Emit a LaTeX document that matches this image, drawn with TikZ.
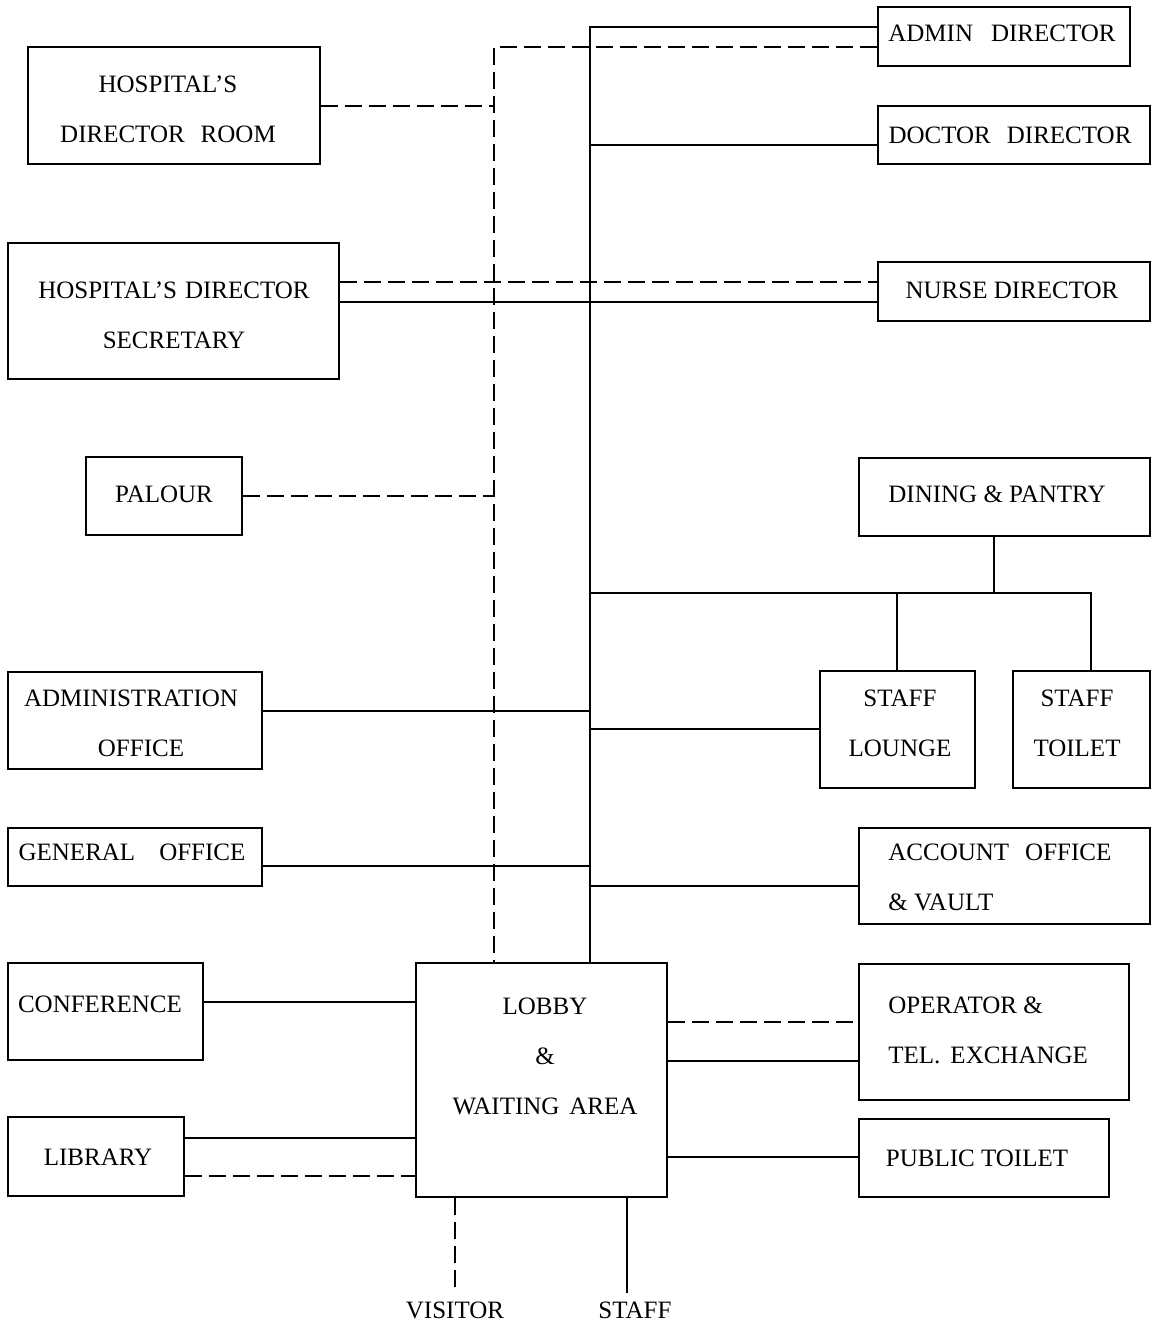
\documentclass[tikz,border=0pt]{standalone}
\usepackage{fontspec}
\setmainfont{Liberation Serif}
\begin{document}
\begin{tikzpicture}[x=0.5pt,y=-0.5pt,
  box/.style={draw, line width=1pt, inner sep=0pt},
  lbl/.style={font=\fontsize{12.5}{25}\selectfont, align=center, inner sep=0pt},
  lbll/.style={lbl, align=left, anchor=west},
  link/.style={line width=1pt},
  dline/.style={line width=1pt, dash pattern=on 8.5pt off 3.5pt},
]
\useasboundingbox[fill=white] (0,0) rectangle (1153,1326);

% room outline from its two corners
\newcommand\room[5]{%
  \node[box, minimum width={(#4-#2)*0.5pt}, minimum height={(#5-#3)*0.5pt}]
    (#1) at ({(#2+#4)/2},{(#3+#5)/2}) {};}

% left column
\room{dirroom}{28}{47}{320}{164}
\node[lbl] (dirroom-t) at (168,109) {HOSPITAL'S\\DIRECTOR\hspace{8pt}ROOM};
\room{secretary}{8}{243}{339}{379}
\node[lbl] (secretary-t) at (174,315) {HOSPITAL'S\hspace{4pt}DIRECTOR\\SECRETARY};
\room{palour}{86}{457}{242}{535}
\node[lbl] (palour-t) at (164,494) {PALOUR};
\room{adminoffice}{8}{672}{262}{769}
\node[lbl] (adminoffice-t) at (131,723) {ADMINISTRATION\\\hspace*{10pt}OFFICE};
\room{genoffice}{8}{828}{262}{886}
\node[lbl] (genoffice-t) at (132,852) {GENERAL\hspace{12pt}OFFICE};
\room{conference}{8}{963}{203}{1060}
\node[lbl] (conference-t) at (100,1004) {CONFERENCE};
\room{library}{8}{1117}{184}{1196}
\node[lbl] (library-t) at (98,1157) {LIBRARY};

% lobby
\room{lobby}{416}{963}{667}{1197}
\node[lbl] (lobby-t) at (545,1056) {LOBBY\\\&\\WAITING\hspace{5pt}AREA};

% right column
\room{admindir}{878}{7}{1130}{66}
\node[lbl] (admindir-t) at (1002,33) {ADMIN\hspace{9pt}DIRECTOR};
\room{docdir}{878}{106}{1150}{164}
\node[lbl] (docdir-t) at (1010,135) {DOCTOR\hspace{8pt}DIRECTOR};
\room{nursedir}{878}{262}{1150}{321}
\node[lbl] (nursedir-t) at (1012,290) {NURSE DIRECTOR};
\room{dining}{859}{458}{1150}{536}
\node[lbl] (dining-t) at (997,494) {DINING \& PANTRY};
\room{lounge}{820}{671}{975}{788}
\node[lbl] (lounge-t) at (900,723) {STAFF\\LOUNGE};
\room{stoilet}{1013}{671}{1150}{788}
\node[lbl] (stoilet-t) at (1077,723) {STAFF\\TOILET};
\room{account}{859}{828}{1150}{924}
\node[lbll] (account-t) at (888,877) {ACCOUNT\hspace{8pt}OFFICE\\\& VAULT};
\room{operator}{859}{964}{1129}{1100}
\node[lbll] (operator-t) at (888,1030) {OPERATOR \&\\TEL.\hspace{5pt}EXCHANGE};
\room{ptoilet}{859}{1119}{1109}{1197}
\node[lbl] (ptoilet-t) at (977,1158) {PUBLIC TOILET};

% entrances
\node[lbl, inner sep=4pt] (visitor) at (455,1310) {VISITOR};
\node[lbl, inner sep=4pt] (staff) at (635,1310) {STAFF};

% main spine (solid) and secondary spine (dashed)
\coordinate (trunktop) at (590,27);
\coordinate (dashtop) at (494,47);
\draw[link] (admindir.west |- trunktop) -- (trunktop) -- (lobby.north -| trunktop);
\draw[dline] (admindir.west |- dashtop) -- (dashtop) -- (lobby.north -| dashtop);

% branches off the dashed spine
\draw[dline] (dirroom.east |- 0,106) -- (dashtop |- 0,106);
\draw[dline] (palour.east |- 0,496) -- (dashtop |- 0,496);

% branches off the solid spine
\draw[link] (docdir.west |- 0,145) -- (trunktop |- 0,145);
\draw[dline] (secretary.east |- 0,282) -- (nursedir.west |- 0,282);
\draw[link] (secretary.east |- 0,302) -- (nursedir.west |- 0,302);
\draw[link] (trunktop |- 0,593) -- (1091,593) -- (stoilet.north -| 1091,0);
\draw[link] (dining.south -| 994,0) -- (994,593);
\draw[link] (lounge.north -| 897,0) -- (897,593);
\draw[link] (adminoffice.east |- 0,711) -- (trunktop |- 0,711);
\draw[link] (lounge.west |- 0,729) -- (trunktop |- 0,729);
\draw[link] (genoffice.east |- 0,866) -- (trunktop |- 0,866);
\draw[link] (account.west |- 0,886) -- (trunktop |- 0,886);

% rooms around the lobby
\draw[link] (conference.east |- 0,1002) -- (lobby.west |- 0,1002);
\draw[link] (library.east |- 0,1138) -- (lobby.west |- 0,1138);
\draw[dline] (library.east |- 0,1176) -- (lobby.west |- 0,1176);
\draw[dline] (lobby.east |- 0,1022) -- (operator.west |- 0,1022);
\draw[link] (lobby.east |- 0,1061) -- (operator.west |- 0,1061);
\draw[link] (lobby.east |- 0,1157) -- (ptoilet.west |- 0,1157);

% entrances
\draw[dline] (lobby.south -| visitor.north) -- (visitor.north);
\coordinate (staffdoor) at (627,0);
\draw[link] (lobby.south -| staffdoor) -- (staff.north -| staffdoor);
\end{tikzpicture}
\end{document}
